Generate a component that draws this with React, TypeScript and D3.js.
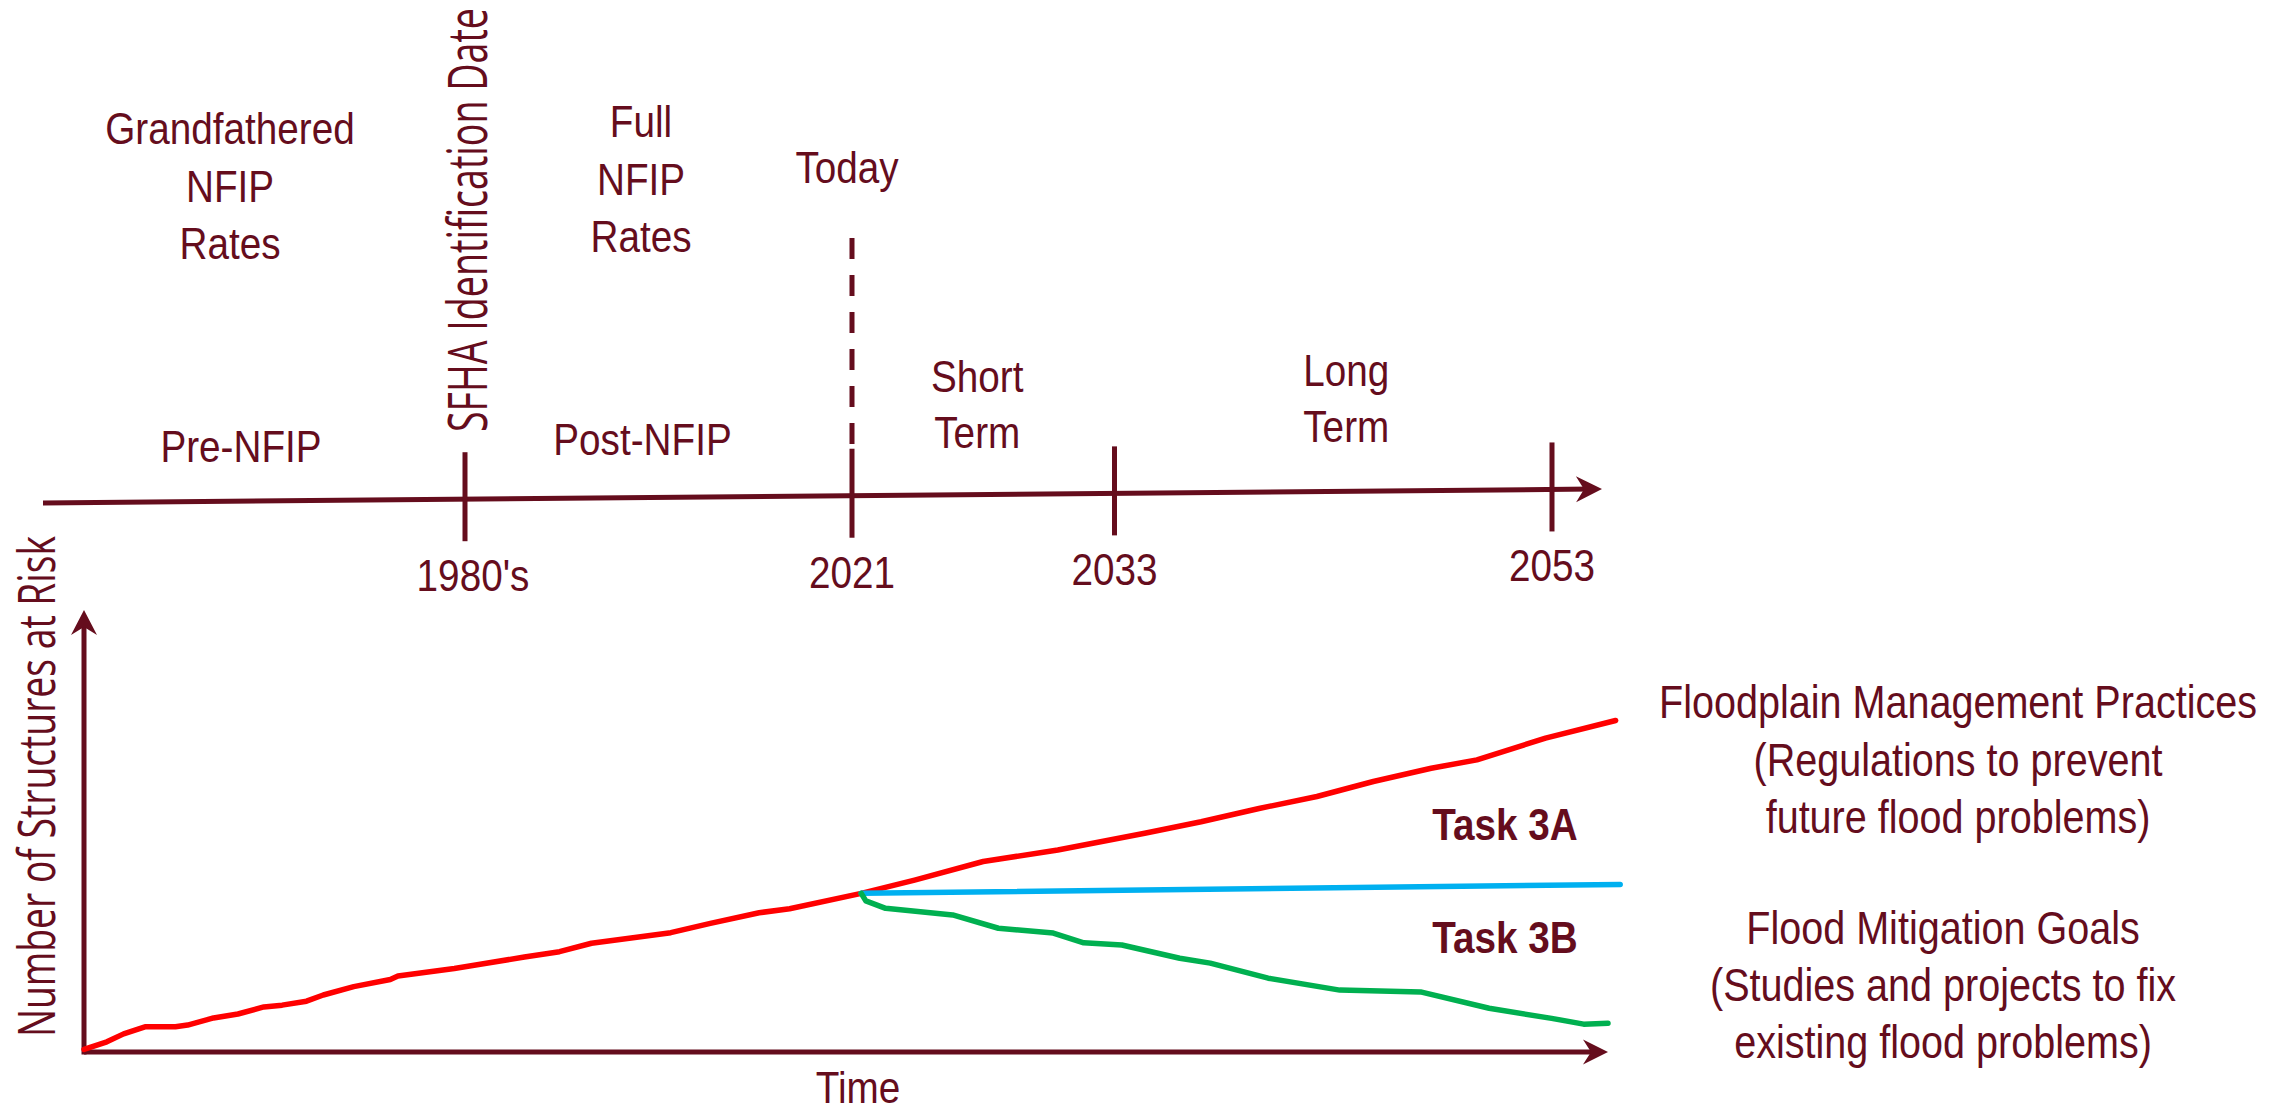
import { useMemo } from "react";
import * as d3 from "d3";

const width = 2288;
const height = 1109;
const maroon = "#650d1d";
const sans = "'Liberation Sans', Arial, sans-serif";
const humanist = "'Open Sans', 'DejaVu Sans', sans-serif";
const squeeze = 0.86; // condensed look, the reference uses a narrow face

// timeline (top)
const tickYears = [1980, 2021, 2033, 2053];
const tickLabels = ["1980's", "2021", "2033", "2053"];
const periodLabels = [["Pre-NFIP"], ["Post-NFIP"], ["Short", "Term"], ["Long", "Term"]];
const rateLabels = [["Grandfathered", "NFIP", "Rates"], ["Full", "NFIP", "Rates"]];
const todayLabel = "Today";
const sfhaLabel = "SFHA Identification Date";

// structures at risk (bottom), [time, structures] in relative units
const regulation = [
  [0, 0.6], [1.5, 2.3], [2.6, 4.1], [4.0, 5.7], [6.0, 5.7], [6.8, 6.1], [8.5, 7.7],
  [10.1, 8.6], [11.8, 10.2], [13.0, 10.6], [14.6, 11.5], [15.7, 12.9], [17.7, 14.8],
  [20.1, 16.4], [20.6, 17.2], [24.3, 18.9], [25.9, 19.8], [28.9, 21.5], [31.2, 22.7],
  [33.3, 24.6], [38.5, 27.0], [41.1, 29.1], [44.3, 31.5], [46.3, 32.4], [51.0, 35.9],
  [54.5, 38.9], [59.0, 43.1], [63.9, 45.7], [69.6, 49.5], [73.3, 52.1], [77.1, 55.1],
  [80.9, 57.8], [84.6, 61.2], [88.4, 64.2], [91.4, 66.1], [95.9, 71.0], [100.5, 75.0],
];
const steady = [[51.0, 35.9], [100.8, 37.9]];
const mitigation = [
  [51.0, 35.9], [51.3, 34.2], [52.6, 32.5], [57.0, 31.0], [60.0, 28.0], [63.6, 26.9],
  [65.6, 24.7], [68.1, 24.2], [71.9, 21.2], [73.9, 20.1], [77.7, 16.7], [82.4, 14.0],
  [87.7, 13.6], [92.2, 9.9], [96.3, 7.6], [98.4, 6.3], [100.0, 6.5],
];
const seriesColors = ["#ff0000", "#00b0f0", "#00b050"];
const taskLabels = ["Task 3A", "Task 3B"];
const regulationNote = ["Floodplain Management Practices", "(Regulations to prevent", "future flood problems)"];
const mitigationNote = ["Flood Mitigation Goals", "(Studies and projects to fix", "existing flood problems)"];
const yTitle = "Number of Structures at Risk";
const xTitle = "Time";

function arrowHead(tx: number, ty: number, angle: number, len = 26, half = 13, notch = 8) {
  const c = Math.cos(angle), s = Math.sin(angle);
  const p = (dx: number, dy: number) => [tx + dx * c - dy * s, ty + dx * s + dy * c];
  const pts = [p(0, 0), p(-len, -half), p(-len + notch, 0), p(-len, half)];
  return "M" + pts.map(q => q.join(",")).join("L") + "Z";
}

function NText({ x, y, children, size = 45, bold = false }: any) {
  return (
    <text transform={`translate(${x},${y}) scale(${squeeze},1)`} textAnchor="middle" fill={maroon}
      fontFamily={sans} fontSize={size} fontWeight={bold ? "bold" : "normal"}>{children}</text>
  );
}

export default function App() {
  // timeline scale: piecewise, the past is compressed
  const tx = d3.scaleLinear().domain([1980, 2021, 2053]).range([465, 852, 1552]);
  const axisStart = 43;
  const axisEnd = 1602;
  const axisY = d3.scaleLinear().domain([axisStart, axisEnd]).range([503, 489]);

  const x = d3.scaleLinear().domain([0, 100]).range([84, 1608]);
  const y = d3.scaleLinear().domain([0, 100]).range([1052, 610]);
  const line = d3.line<number[]>().x(d => x(d[0])).y(d => y(d[1])).curve(d3.curveLinear);

  const bounds = [axisStart, ...tickYears.map(tx)];
  const periodNudge = [-13, -16, -6, 13];
  const periodBase = [462, 455, 448, 442];

  const series = useMemo(() => [regulation, steady, mitigation], []);

  return (
    <svg width={width} height={height} style={{ position: "absolute", left: 0, top: 0, background: "#fff" }}>
      {/* timeline */}
      <g>
        <line x1={axisStart} y1={axisY(axisStart)} x2={axisEnd - 10} y2={axisY(axisEnd - 10)} stroke={maroon} strokeWidth={5} />
        <path d={arrowHead(axisEnd, axisY(axisEnd), Math.atan2(axisY(axisEnd) - axisY(axisStart), axisEnd - axisStart))} fill={maroon} />
        {tickYears.map((yr, i) => (
          <g key={yr}>
            <line x1={tx(yr)} x2={tx(yr)} y1={axisY(tx(yr)) - 47} y2={axisY(tx(yr)) + 42} stroke={maroon} strokeWidth={5} />
            <NText x={tx(yr) + (i === 0 ? 8 : 0)} y={axisY(tx(yr)) + 92}>{tickLabels[i]}</NText>
          </g>
        ))}
        <line x1={tx(2021)} x2={tx(2021)} y1={238} y2={axisY(tx(2021)) - 47} stroke={maroon} strokeWidth={5} strokeDasharray="21 16" />
        <NText x={tx(2021) - 5} y={183}>{todayLabel}</NText>
        <text transform={`translate(487,432) rotate(-90)`} fill={maroon} fontFamily={humanist} fontSize={54}
          textLength={424} lengthAdjust="spacingAndGlyphs">{sfhaLabel}</text>
        {periodLabels.map((lines, i) => {
          const cx = (bounds[i] + bounds[i + 1]) / 2 + periodNudge[i];
          return lines.map((l, j) => (
            <NText key={`${i}-${j}`} x={cx} y={periodBase[i] - (lines.length - 1 - j) * 56}>{l}</NText>
          ));
        })}
        {rateLabels.map((lines, i) => {
          const cx = i === 0 ? 230 : 641;
          const top = i === 0 ? 144 : 137;
          return lines.map((l, j) => <NText key={`${i}-${j}`} x={cx} y={top + j * 57.5}>{l}</NText>);
        })}
      </g>

      {/* lower chart */}
      <g>
        <line x1={x(0)} y1={y(0)} x2={x(100) - 10} y2={y(0)} stroke={maroon} strokeWidth={5} />
        <path d={arrowHead(x(100), y(0), 0, 25, 12.5)} fill={maroon} />
        <line x1={x(0)} y1={y(0) + 2.5} x2={x(0)} y2={y(100) + 10} stroke={maroon} strokeWidth={5} />
        <path d={arrowHead(x(0), y(100), -Math.PI / 2, 25, 13)} fill={maroon} />
        {series.map((s, i) => (
          <path key={i} d={line(s) || ""} fill="none" stroke={seriesColors[i]} strokeWidth={5.5}
            strokeLinejoin="round" strokeLinecap="round" />
        ))}
        <text transform={`translate(55,1037) rotate(-90)`} fill={maroon} fontFamily={humanist} fontSize={52}
          textLength={501} lengthAdjust="spacingAndGlyphs">{yTitle}</text>
        <NText x={858} y={1103}>{xTitle}</NText>
        {taskLabels.map((t, i) => (
          <NText key={t} x={1505} y={i === 0 ? 840 : 953} bold>{t}</NText>
        ))}
        {regulationNote.map((l, j) => <NText key={l} x={1958} y={718 + j * 57.5} size={46}>{l}</NText>)}
        {mitigationNote.map((l, j) => <NText key={l} x={1943} y={944 + j * 57} size={46}>{l}</NText>)}
      </g>
    </svg>
  );
}
